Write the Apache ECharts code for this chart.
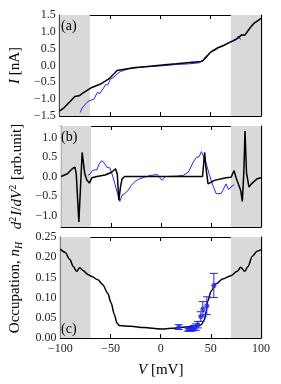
<!DOCTYPE html>
<html><head><meta charset="utf-8">
<script src="https://cdn.jsdelivr.net/npm/echarts@6/dist/echarts.min.js"></script>
<style>html,body{margin:0;padding:0;background:#fff}#c{width:281px;height:384px}</style>
</head><body><div id="c"></div>
<script>
// ---- data ----
const xTicks = [-100, -50, 0, 50, 100];
const shadeRanges = [[-100, -70], [70, 100]];

// panel (a): I [nA]
const vA_black = [-100,-95.4,-88.9,-85,-83.9,-80.7,-77.4,-69.2,-59.4,-51.2,-46.2,-43,-41.3,-26.6,-10.2,4.6,15.8,40.4,42.5,45.3,50.2,56.7,63.3,69.9,76.4,80.7,84,87.9,92.8,97.7,100];
const iA_black = [-1.35,-1.25,-1.05,-0.92,-0.89,-0.90,-0.83,-0.67,-0.55,-0.40,-0.25,-0.15,-0.10,-0.07,-0.02,0.02,0.05,0.12,0.15,0.25,0.40,0.52,0.60,0.70,0.80,0.91,0.90,1.07,1.25,1.35,1.40];
const vA_blue = [-79.7,-77.4,-75.7,-73.1,-70.8,-69.2,-65.9,-62.6,-60.0,-57.7,-54.4,-52.1,-49.5,-46.2,-42.9,-39.7,-36.4,-31.5,-25,-15,-3.9,5,15.8,28.9,38.7,42,45.3,48.5,51.8,55.1,58.4,61.7,63.3,65.6,69.9,71.5,74.8,77.4,79.7];
const iA_blue = [-1.40,-1.25,-1.27,-1.10,-1.05,-1.07,-1.00,-0.80,-0.83,-0.73,-0.57,-0.57,-0.40,-0.35,-0.25,-0.18,-0.15,-0.10,-0.07,-0.04,-0.02,0.0,0.03,0.05,0.08,0.15,0.22,0.35,0.45,0.47,0.55,0.57,0.52,0.65,0.70,0.65,0.75,0.87,0.77];
const yTicksA = [-1.5,-1.0,-0.5,0.0,0.5,1.0,1.5];

// panel (b): d2I/dV2
const vB_black = [-100,-93.8,-88.9,-86.2,-84.9,-82.3,-79.0,-76.4,-74.1,-71.8,-69.2,-64.3,-56.1,-49.5,-45.6,-43.8,-42.3,-40.5,-39,-36.4,0,41.5,42.6,43.6,44.8,47,53.5,65,70,73.1,75.4,79.7,81.3,82.8,84,85.5,87.9,91.2,96.1,100];
const dB_black = [0.0,0.07,0.20,0.24,0.07,-1.17,0.62,0.07,-0.10,-0.17,-0.03,0.0,0.04,0.11,0.20,0.05,-0.61,-0.25,-0.06,0.0,0.0,0.0,0.05,0.62,0.25,-0.19,-0.10,-0.03,-0.02,0.15,-0.06,-0.36,-0.64,0.10,1.17,0.10,-0.27,-0.17,-0.06,-0.03];
const vB_blue = [-73.1,-70.8,-69.2,-66.6,-64.3,-62,-59.4,-56.7,-54.4,-51.2,-48.9,-46.2,-43.6,-41.3,-39.0,-36.4,-33.1,-29.8,-25.9,-21.7,-16.7,-10.2,-3.6,1,4.3,15.8,22.3,27.2,32.2,35.4,38.1,40.4,42,45.3,48.5,51.8,55.1,60,61.7,65,67.6,69.9,73.1];
const dB_blue = [0.03,0.07,0.14,0.17,0.17,0.32,0.41,0.34,0.24,0.22,0.05,-0.19,-0.44,-0.64,-0.48,-0.44,-0.36,-0.23,-0.12,-0.06,-0.02,0.03,0.05,-0.10,0.0,0.01,0.03,0.11,0.37,0.49,0.51,0.64,0.54,0.32,0.03,-0.23,-0.44,-0.44,-0.36,-0.19,-0.34,-0.27,-0.21];
const yTicksB = [-1.0,-0.5,0.0,0.5,1.0];

// panel (c): occupation n_H
const vC = [-100,-95.4,-90.5,-87.2,-83.9,-80.7,-77.4,-72.5,-69.2,-62.6,-57.7,-52.8,-49.5,-46.2,-43.6,-41.3,-29.8,-16.7,0,15.8,35.4,40.4,43.6,45.3,46.9,50.2,55.1,61.7,69.9,76.4,79.7,83.9,87,91.2,96.1,100];
const nC = [0.220,0.212,0.194,0.177,0.165,0.174,0.167,0.157,0.153,0.144,0.132,0.111,0.087,0.058,0.037,0.031,0.029,0.026,0.022,0.025,0.029,0.033,0.045,0.066,0.091,0.116,0.134,0.146,0.154,0.165,0.175,0.165,0.177,0.202,0.215,0.219];
const vC_pts = [18, 27, 29, 31, 33, 35, 37, 40, 42, 46, 53];
const nC_pts = [0.027,0.021,0.021,0.022,0.025,0.027,0.033,0.053,0.072,0.080,0.130];
const eC_pts = [0.006,0.004,0.004,0.005,0.006,0.008,0.008,0.012,0.018,0.022,0.030];
const yTicksC = [0,0.05,0.10,0.15,0.20,0.25];

// ---- styling ----
const FONT = 'Liberation Serif';
const BLACK = '#000';
const BLUE = '#2424ff';
const SHADE = '#d9d9d9';
const minus = s => s.replace('-', '\u2212');
const grids = [
  {left:57, right:20, top:15, height:101},
  {left:57, right:20, top:126, height:101},
  {left:57, right:20, top:237, height:101}
];
const pair = (xs, ys) => xs.map((x, i) => [x, ys[i]]);
const tickStyle = {show:true, inside:true, length:4, lineStyle:{color:BLACK, width:1}};
const lineAx = {show:true, onZero:false, lineStyle:{color:BLACK, width:1.2}};
const labelStyle = {fontFamily:FONT, fontSize:12, color:'#222'};

const xAxis = [], yAxis = [];
const yCfg = [
  {min:-1.5, max:1.5, ticks:yTicksA, dec:1},
  {min:-1.3, max:1.3, ticks:yTicksB, dec:1},
  {min:0, max:0.25, ticks:yTicksC, dec:2}
];
const yNames = [
  '{i|I}{r| [nA]}',
  '{i|d}{sup|2}{i|I}{r|/}{i|d}{i|V}{sup|2}{r| [arb.unit]}',
  '{r|Occupation, }{i|n}{s|H}'
];
const rich = {
  r:{fontFamily:FONT, fontSize:15, color:BLACK, lineHeight:18},
  i:{fontFamily:FONT, fontStyle:'italic', fontSize:15, color:BLACK, lineHeight:18},
  sup:{fontFamily:FONT, fontSize:10, color:BLACK, verticalAlign:'top', lineHeight:18, padding:[0,1,6,0]},
  s:{fontFamily:FONT, fontStyle:'italic', fontSize:10, color:BLACK, verticalAlign:'bottom', lineHeight:18, padding:[6,0,0,0]}
};
for (let g = 0; g < 3; g++) {
  ['bottom','top'].forEach(pos => {
    const showLab = (g === 2 && pos === 'bottom');
    xAxis.push({
      gridIndex:g, type:'value', position:pos, min:-100, max:100,
      axisLine:lineAx, axisTick:Object.assign({}, tickStyle, {customValues:xTicks}),
      axisLabel:Object.assign({show:showLab, customValues:xTicks, margin:5, formatter:v => minus(String(v))}, labelStyle),
      splitLine:{show:false},
      name: showLab ? '{i|V}{r| [mV]}' : '', nameLocation:'middle', nameGap:23,
      nameTextStyle:{fontFamily:FONT, fontSize:15, color:BLACK, rich}
    });
  });
  ['left','right'].forEach(pos => {
    const c = yCfg[g];
    const showLab = pos === 'left';
    yAxis.push({
      gridIndex:g, type:'value', position:pos, min:c.min, max:c.max,
      axisLine:lineAx, axisTick:Object.assign({}, tickStyle, {customValues:c.ticks}),
      axisLabel:Object.assign({show:showLab, customValues:c.ticks, margin:4, formatter:v => minus(v.toFixed(c.dec))}, labelStyle),
      splitLine:{show:false},
      name: showLab ? yNames[g] : '', nameLocation:'middle', nameRotate:90, nameGap:29,
      nameTextStyle:{fontFamily:FONT, fontSize:15, color:BLACK, rich}
    });
  });
}

const series = [];
for (let g = 0; g < 3; g++) {
  series.push({
    type:'line', xAxisIndex:2*g, yAxisIndex:2*g, data:[[-100, yCfg[g].min],[100, yCfg[g].min]],
    symbol:'none', lineStyle:{opacity:0}, silent:true, z:1,
    markArea:{silent:true, itemStyle:{color:SHADE}, data:shadeRanges.map(r => [{xAxis:r[0]},{xAxis:r[1]}])}
  });
}
series.push({type:'line', xAxisIndex:0, yAxisIndex:0, data:pair(vA_blue, iA_blue), symbol:'none', lineStyle:{color:BLUE, width:1}, z:3});
series.push({type:'line', xAxisIndex:0, yAxisIndex:0, data:pair(vA_black, iA_black), symbol:'none', lineStyle:{color:BLACK, width:1.5}, z:4});
series.push({type:'line', xAxisIndex:2, yAxisIndex:2, data:pair(vB_blue, dB_blue), symbol:'none', lineStyle:{color:BLUE, width:1}, z:3});
series.push({type:'line', xAxisIndex:2, yAxisIndex:2, data:pair(vB_black, dB_black), symbol:'none', lineStyle:{color:BLACK, width:1.5}, z:4});
series.push({type:'line', xAxisIndex:4, yAxisIndex:4, data:pair(vC, nC), symbol:'none', smooth:0.3, smoothMonotone:'x', lineStyle:{color:BLACK, width:1.5}, z:3});
series.push({
  type:'custom', xAxisIndex:4, yAxisIndex:4, z:5,
  data: vC_pts.map((v, i) => [v, nC_pts[i], eC_pts[i]]),
  renderItem(params, api) {
    const x = api.value(0), y = api.value(1), e = api.value(2);
    const lo = api.coord([x, y - e]), hi = api.coord([x, y + e]);
    const w = 4, st = {stroke:BLUE, lineWidth:1};
    return {type:'group', children:[
      {type:'line', shape:{x1:lo[0], y1:lo[1], x2:hi[0], y2:hi[1]}, style:st},
      {type:'line', shape:{x1:lo[0]-w, y1:lo[1], x2:lo[0]+w, y2:lo[1]}, style:st},
      {type:'line', shape:{x1:hi[0]-w, y1:hi[1], x2:hi[0]+w, y2:hi[1]}, style:st}
    ]};
  }
});
series.push({type:'scatter', xAxisIndex:4, yAxisIndex:4, data:pair(vC_pts, nC_pts), symbolSize:5, itemStyle:{color:BLUE}, z:6});

const panelText = (t, x, y) => ({type:'text', left:x, top:y, z:10, style:{text:t, font:'14px "' + FONT + '"', fill:BLACK}});

const chart = echarts.init(document.getElementById('c'), null, {renderer:'canvas'});
chart.setOption({
  animation:false,
  backgroundColor:'#fff',
  grid:grids,
  xAxis, yAxis, series,
  graphic:[panelText('(a)', 61, 19), panelText('(b)', 61, 130), panelText('(c)', 61, 322)]
});
</script></body></html>
